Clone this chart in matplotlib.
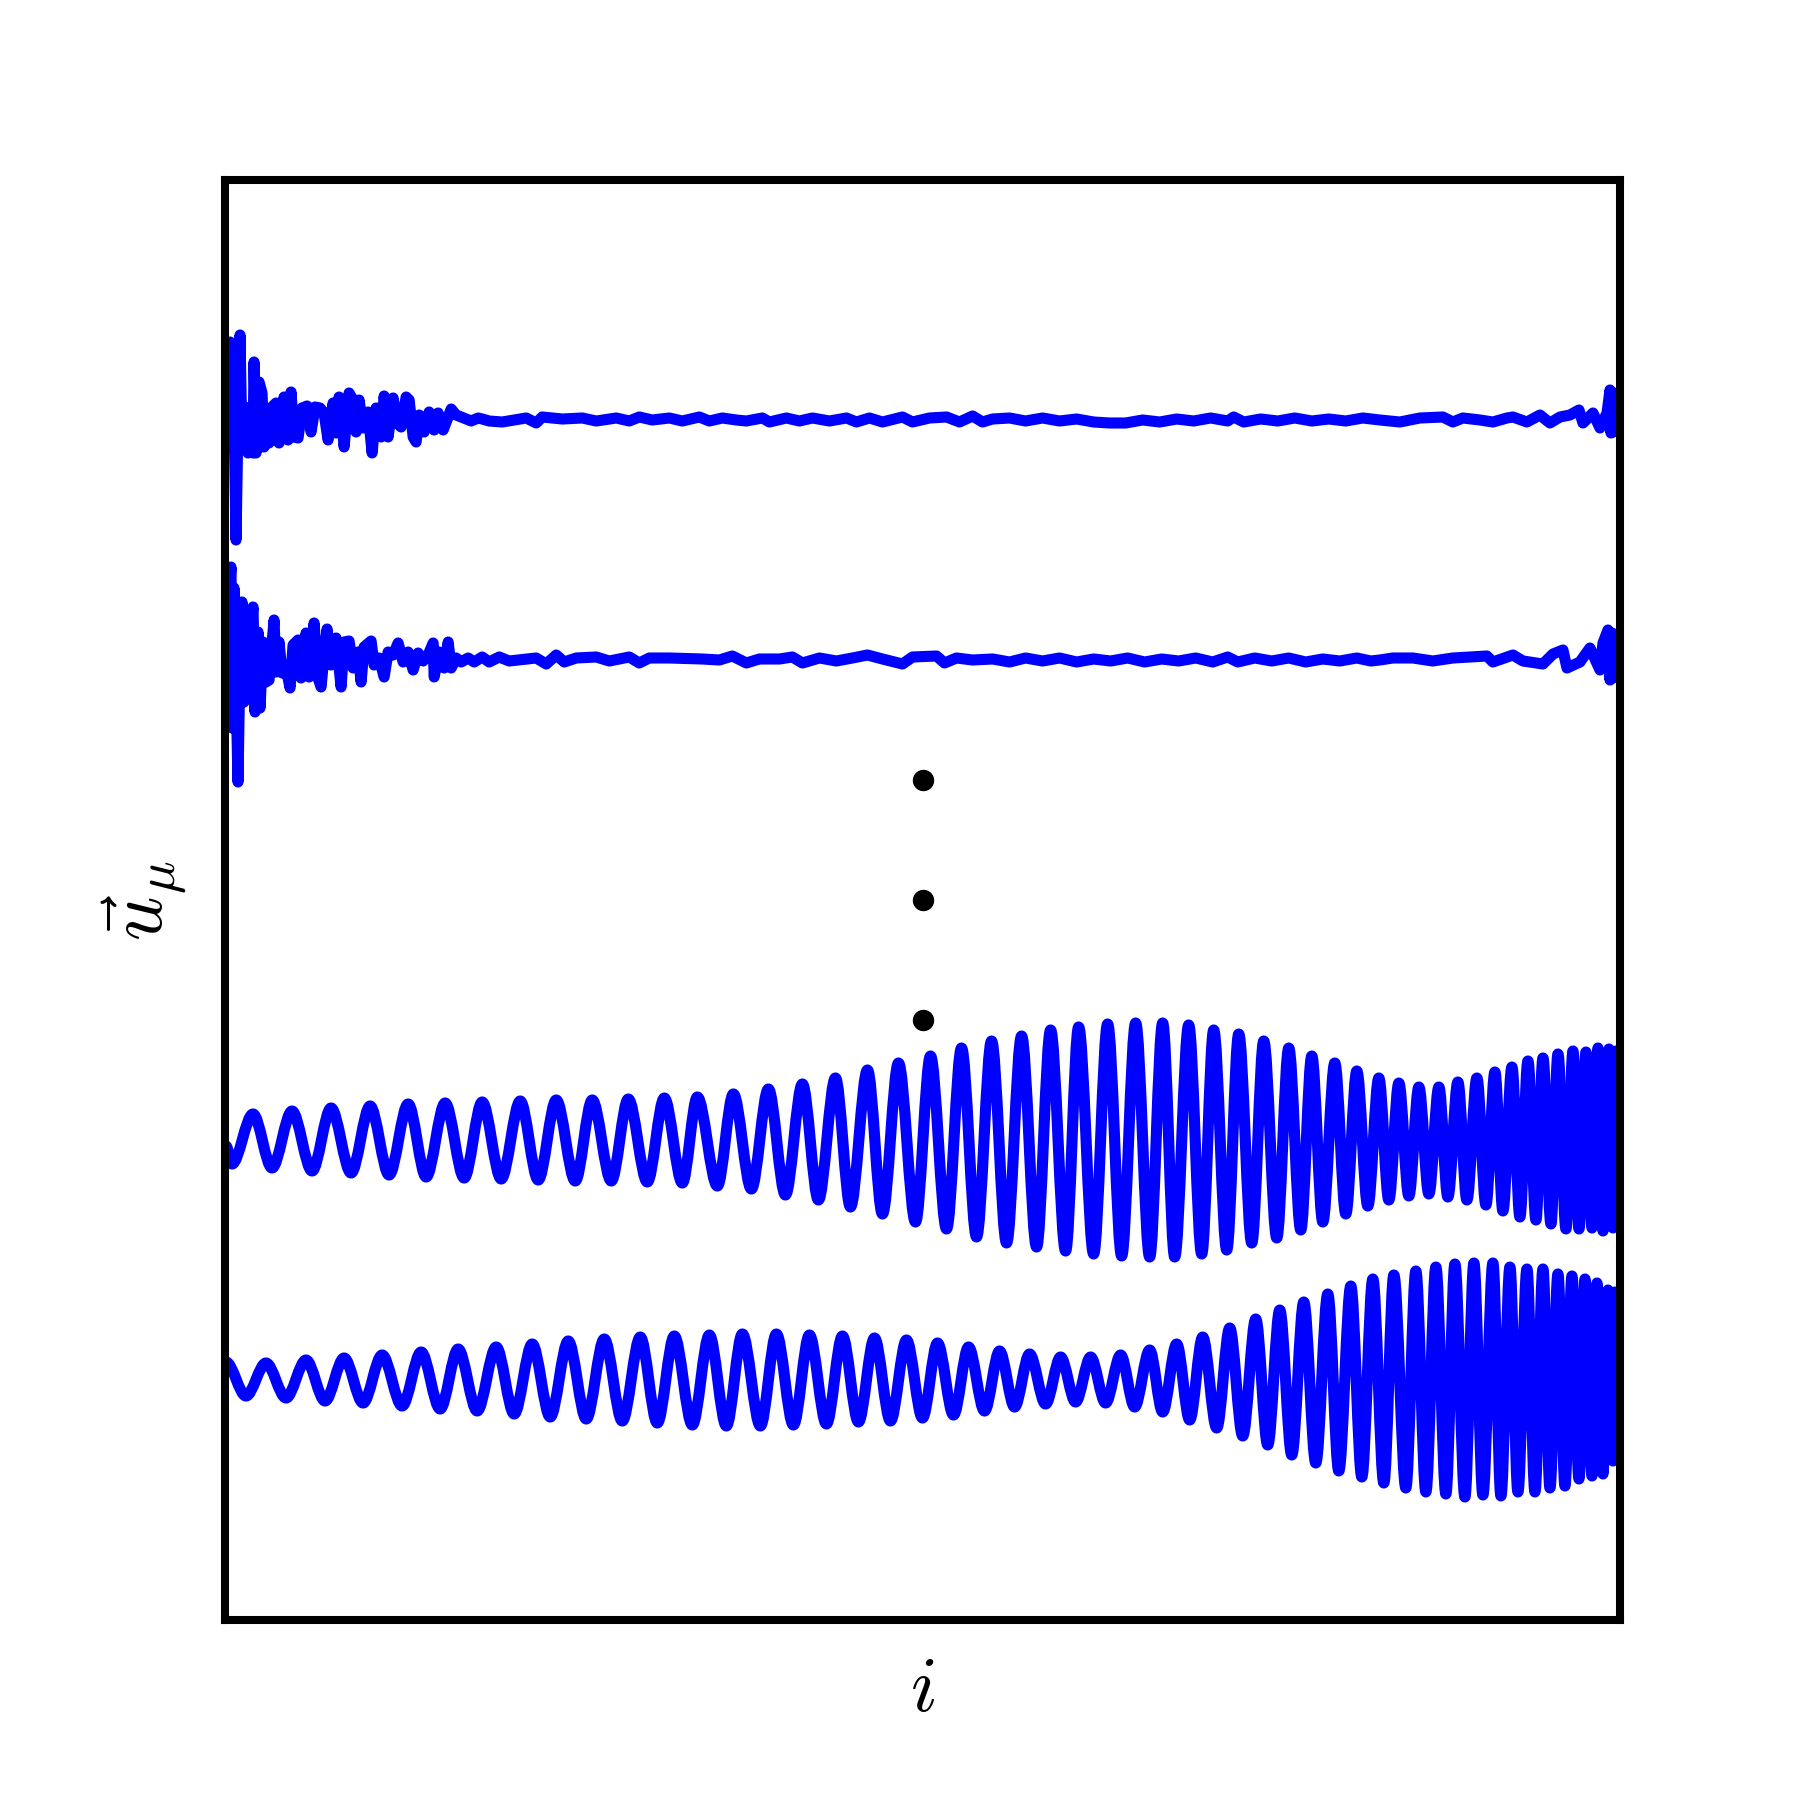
import matplotlib
matplotlib.use("Agg")
import matplotlib.pyplot as plt
from matplotlib.path import Path
from matplotlib.patches import PathPatch

plt.rcParams['mathtext.fontset'] = 'cm'

# component offsets (stacked vertically)
offsets = [1200, 960, 480, 240]
dots_x = 697
dots_y = [840, 720, 600]

# component 1: noisy near the left edge, then almost flat
x1 = [0, 5, 7, 8, 11, 13, 15, 17, 20, 23, 25, 28, 29, 31, 34, 37, 39, 42, 44, 47,
      51, 54, 59, 63, 66, 69, 73, 77, 82, 86, 90, 95, 99, 103, 108, 111, 114, 117, 119, 124,
      128, 131, 134, 138, 143, 147, 151, 156, 159, 163, 168, 172, 176, 181, 184, 188, 191, 194, 199, 204,
      209, 213, 218, 223, 226, 231, 236, 246, 253, 257, 264, 277, 301, 311, 317, 337, 357, 371, 391, 404,
      414, 427, 444, 457, 474, 484, 497, 511, 521, 537, 544, 561, 574, 587, 604, 621, 631, 644, 657, 677,
      687, 704, 721, 734, 747, 757, 767, 784, 800, 817, 834, 851, 868, 884, 900, 917, 934, 951, 968, 985,
      1002, 1008, 1018, 1035, 1052, 1069, 1086, 1103, 1120, 1137, 1154, 1174, 1194, 1217, 1227, 1237, 1254, 1267, 1281, 1287,
      1301, 1314, 1324, 1334, 1344, 1353, 1357, 1367, 1374, 1381, 1384, 1385, 1386, 1387, 1388, 1389, 1390]
d1 = [0, 78, -27, 67, -120, 0, 85, -27, 13, -33, 7, -33, 58, -33, 38, 27, -27, 0, -23, 13,
      17, -23, 23, -20, 28, -17, -18, 12, 14, -12, 13, 12, 7, -20, 17, -13, 23, 0, -27, 27,
      20, -12, 20, -8, 8, -33, 12, -17, 24, -17, 22, -3, -7, 23, 20, -17, -22, 5, -12, 8,
      -10, 7, -10, 3, 11, 5, 3, -1, 2, 1, -1, -2, 2, -3, 3, 1, 2, -1, 2, -1,
      3, 0, 2, -1, 3, -1, 2, 0, -1, 2, -2, 2, -1, 2, -1, 2, -2, 2, -2, 3,
      -2, 2, 3, -2, 4, -2, 1, 2, -1, 2, -1, 1, -2, -3, -3, 0, -2, 1, -1, 2,
      -1, 3, -2, 1, -1, 2, -1, 1, -1, 2, 0, -2, 2, 3, -2, 2, 0, -2, 2, 3,
      -2, 5, -3, 3, 5, 10, -3, 7, -8, 7, 30, -13, 23, -12, 27, -10, 10]

# component 2
x2 = [0, 6, 7, 9, 13, 15, 17, 19, 23, 28, 30, 33, 35, 38, 41, 44, 49, 51, 54, 57,
      61, 65, 68, 73, 76, 81, 84, 89, 93, 96, 99, 102, 106, 111, 116, 119, 124, 128, 133, 136,
      139, 146, 149, 154, 159, 163, 168, 173, 178, 183, 188, 193, 198, 203, 208, 209, 214, 219, 223, 226,
      231, 236, 243, 249, 257, 264, 274, 284, 311, 321, 331, 339, 351, 371, 384, 404, 414, 424, 444, 477,
      494, 507, 521, 534, 554, 567, 577, 594, 611, 627, 642, 657, 677, 687, 711, 719, 731, 747, 767, 784,
      800, 817, 834, 851, 868, 885, 902, 919, 936, 953, 970, 987, 1002, 1012, 1029, 1046, 1063, 1080, 1097, 1114,
      1131, 1145, 1154, 1167, 1187, 1207, 1227, 1261, 1267, 1287, 1297, 1317, 1327, 1337, 1341, 1354, 1364, 1374, 1377, 1382,
      1384, 1386, 1387, 1389]
d2 = [0, 93, -68, 72, -122, 5, 58, -42, 5, 53, -52, 28, -48, 18, -22, -20, 40, -12, 18, -13,
      -8, -28, 15, 20, -18, 27, -17, 37, -18, -27, 5, 31, -5, 22, -27, 18, 19, -8, 8, -22,
      13, 19, -5, 2, -17, 8, 5, 17, -2, 8, -10, 7, -1, 5, 17, -17, 8, -8, 18, -8,
      2, -2, 2, -2, 3, -2, 3, -1, 2, -4, 5, -2, 2, 3, -1, 3, -3, 2, 2, 1,
      0, 4, -3, 1, 1, 3, -3, 2, -1, 2, 5, 1, -4, 3, 4, -3, 2, 0, 1, -2,
      2, -1, 2, -2, 1, -1, 2, -2, 1, -1, 2, -2, 3, -2, 2, -1, 2, -2, 1, -1,
      2, -1, 0, 2, 2, -1, 2, 4, -2, 5, -1, -4, 6, 10, -8, -2, 12, -10, 17, 30,
      -20, 27, -18, 23]

# component 3: turning points of the oscillation
x3 = [1, 7, 28, 47, 67, 87, 106, 126, 145, 164, 183, 201, 220, 239, 257, 276, 295, 313, 331, 350,
      367, 386, 403, 422, 439, 457, 472, 492, 508, 526, 543, 560, 577, 593, 610, 625, 642, 657, 673, 690,
      705, 721, 736, 751, 766, 781, 796, 811, 825, 840, 853, 868, 882, 896, 910, 924, 937, 949, 963, 976,
      988, 1001, 1013, 1026, 1038, 1051, 1063, 1075, 1086, 1097, 1109, 1120, 1131, 1142, 1153, 1163, 1173, 1183, 1193, 1203,
      1213, 1222, 1232, 1241, 1251, 1260, 1269, 1277, 1286, 1294, 1302, 1310, 1317, 1325, 1332, 1340, 1347, 1353, 1360, 1366,
      1372, 1377, 1383, 1387, 1390, 1394]
d3 = [-6, -24, 26, -28, 29, -31, 32, -33, 34, -35, 36, -37, 37, -38, 38, -39, 39, -40, 40, -41,
      40, -41, 41, -42, 42, -43, 43, -46, 46, -49, 51, -55, 56, -60, 62, -67, 70, -74, 77, -82,
      84, -89, 92, -97, 99, -103, 104, -107, 110, -111, 113, -114, 116, -116, 117, -117, 117, -117, 115, -114,
      110, -110, 106, -103, 99, -98, 92, -90, 84, -82, 77, -74, 69, -66, 62, -60, 57, -56, 53, -54,
      53, -57, 58, -60, 62, -65, 68, -71, 73, -77, 79, -80, 82, -84, 86, -89, 89, -89, 88, -88,
      92, -91, 91, -88, 89, -60]

# component 4
x4 = [1, 21, 41, 61, 81, 100, 119, 138, 157, 177, 196, 215, 233, 252, 271, 289, 307, 325, 343, 361,
      379, 397, 415, 432, 449, 467, 484, 501, 517, 535, 551, 568, 584, 601, 617, 633, 649, 665, 681, 697,
      712, 728, 743, 759, 774, 789, 804, 820, 835, 850, 865, 880, 895, 909, 924, 937, 951, 964, 977, 991,
      1004, 1017, 1030, 1042, 1054, 1066, 1078, 1090, 1102, 1113, 1125, 1136, 1147, 1158, 1168, 1180, 1190, 1200, 1210, 1220,
      1229, 1239, 1248, 1257, 1267, 1275, 1284, 1292, 1301, 1309, 1317, 1324, 1332, 1339, 1346, 1353, 1359, 1366, 1371, 1377,
      1382, 1387, 1389, 1394]
d4 = [18, -16, 17, -18, 20, -21, 22, -23, 25, -26, 28, -29, 31, -31, 33, -34, 36, -37, 39, -39,
      41, -41, 43, -43, 44, -45, 45, -46, 46, -46, 46, -45, 45, -44, 44, -42, 42, -41, 40, -38,
      37, -35, 33, -31, 29, -27, 26, -24, 23, -22, 23, -23, 25, -27, 30, -32, 36, -40, 43, -48,
      52, -56, 61, -65, 70, -75, 78, -83, 86, -91, 94, -97, 101, -103, 105, -108, 109, -112, 113, -114,
      116, -117, 117, -115, 117, -116, 113, -112, 111, -112, 111, -108, 106, -106, 104, -99, 101, -96, 97, -94,
      90, -81, 88, 40]


def smooth_path(xs, ys):
    # cubic segments with flat tangents at every turning point
    verts = [(xs[0], ys[0])]
    codes = [Path.MOVETO]
    for xa, ya, xb, yb in zip(xs[:-1], ys[:-1], xs[1:], ys[1:]):
        dx = (xb - xa) / 3.0
        verts += [(xa + dx, ya), (xb - dx, yb), (xb, yb)]
        codes += [Path.CURVE4] * 3
    return Path(verts, codes)


fig = plt.figure(figsize=(18, 18), dpi=100)
ax = fig.add_axes([0.125, 0.1, 0.775, 0.8])

lw = 8.0
for xs, ds, off in [(x1, d1, offsets[0]), (x2, d2, offsets[1])]:
    ax.plot(xs, [off + d for d in ds], color='#0000ff', lw=lw,
            solid_joinstyle='round', solid_capstyle='round')

for xs, ds, off in [(x3, d3, offsets[2]), (x4, d4, offsets[3])]:
    p = smooth_path(xs, [off + d for d in ds])
    ax.add_patch(PathPatch(p, fill=False, edgecolor='#0000ff', lw=lw,
                           joinstyle='round', capstyle='round'))

ax.plot([dots_x] * 3, dots_y, 'o', color='black', markersize=14.4)

ax.set_xlim(0, 1394)
ax.set_ylim(0, 1440)
ax.set_xticks([])
ax.set_yticks([])
for s in ax.spines.values():
    s.set_linewidth(5.8)

ax.set_xlabel(r'$i$', fontsize=56, labelpad=22)
ax.set_ylabel(r'$\vec{u}_\mu$', fontsize=56, labelpad=26)

fig.savefig('out.png', dpi=100)
